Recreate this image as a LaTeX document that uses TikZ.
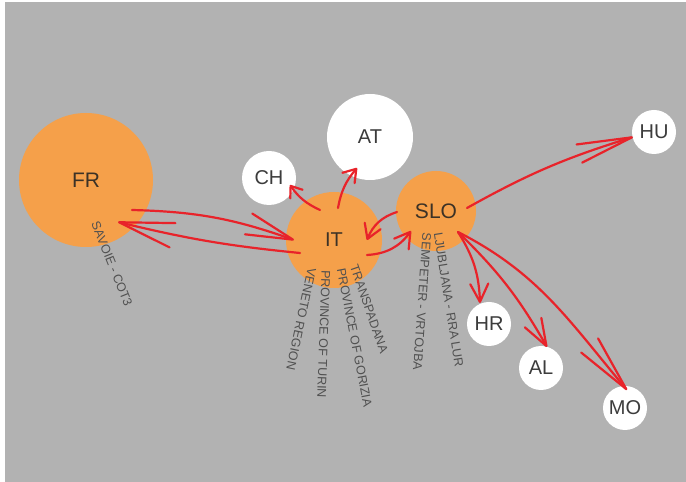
\documentclass[tikz,border=0pt]{standalone}
\usepackage{fontspec}
\setmainfont{Liberation Sans}
\usetikzlibrary{arrows.meta}
\definecolor{bggray}{RGB}{178,178,178}
\definecolor{orng}{RGB}{245,160,74}
\definecolor{arrred}{RGB}{232,35,42}
\definecolor{txtdark}{RGB}{60,50,38}
\definecolor{txtgray}{RGB}{60,60,60}
\definecolor{lblgray}{RGB}{80,80,80}
\begin{document}
\begin{tikzpicture}[x=1pt,y=1pt,
  bigc/.style={circle, fill=orng, inner sep=0pt, text=txtdark},
  smallc/.style={circle, fill=white, inner sep=0pt, text=txtgray, font=\fontsize{20}{22}\selectfont},
  lbl/.style={anchor=west, inner sep=0pt, text=lblgray, font=\fontsize{12.5}{14}\selectfont},
  conn/.style={draw=arrred, line width=2.2pt, line cap=round}
]
\useasboundingbox (0,0) rectangle (686,482);
\fill[white] (0,0) rectangle (686,482);
\fill[bggray] (5,0) rectangle (686,480);

% circles
\node[bigc, minimum size=134pt, font=\fontsize{21}{24}\selectfont] (FR) at (86,302) {FR};
\node[bigc, minimum size=96pt, font=\fontsize{20}{22}\selectfont] (IT) at (334,242) {IT};
\node[bigc, minimum size=80pt, font=\fontsize{21}{24}\selectfont] (SLO) at (436,271) {SLO};
\node[smallc, minimum size=54pt] (CH) at (269,304) {CH};
\node[smallc, minimum size=86pt] (AT) at (370,345) {AT};
\node[smallc, minimum size=44pt] (HU) at (654,350) {HU};
\node[smallc, minimum size=44pt] (HR) at (489,158) {HR};
\node[smallc, minimum size=44pt] (AL) at (541,114) {AL};
\node[smallc, minimum size=44pt] (MO) at (625,74) {MO};

% labels
\node[lbl, rotate=-68] (l1) at (95,260) {SAVOIE - COT3};
\node[lbl, rotate=-71] (l2) at (354,217) {TRANSPADANA};
\node[lbl, rotate=-79] (l3) at (341,214) {PROVINCE OF GORIZIA};
\node[lbl, rotate=-92] (l4) at (326,212) {PROVINCE OF TURIN};
\node[lbl, rotate=-102] (l5) at (312,214) {VENETO REGION};
\node[lbl, rotate=-81] (l6) at (438,249) {LJUBLJANA - RRA LUR};
\node[lbl, rotate=-94] (l7) at (427,249) {SEMPETER - VRTOJBA};

% connectors
\draw[conn, -{Straight Barb[length=47pt,width=22pt,round]}]
  ([shift={(46,-30)}]FR.center) to[bend left=9] ([shift={(-40,0)}]IT.center);
\draw[conn, -{Straight Barb[length=55pt,width=25pt,round]}]
  ([shift={(-34,-13)}]IT.center) to[bend left=4] ([shift={(32,-42)}]FR.center);
\draw[conn, -{Straight Barb[length=14pt,width=17pt,round]}]
  ([shift={(-39,-1)}]SLO.center) to[bend right=25] ([shift={(33,0)}]IT.center);
\draw[conn, -{Straight Barb[length=15pt,width=18pt,round]}]
  ([shift={(33,-15)}]IT.center) to[bend right=25] ([shift={(-25,-20)}]SLO.center);
\draw[conn, -{Straight Barb[length=10pt,width=15pt,round]}]
  ([shift={(-14,30)}]IT.center) to[bend left=15] ([shift={(21,-7)}]CH.center);
\draw[conn, -{Straight Barb[length=12pt,width=16pt,round]}]
  ([shift={(4,32)}]IT.center) to[bend left=15] ([shift={(-13,-31)}]AT.center);
\draw[conn, -{Straight Barb[length=55pt,width=19pt,round]}]
  ([shift={(31,3)}]SLO.center) to[bend left=6] ([shift={(-21,-5)}]HU.center);
\draw[conn, -{Straight Barb[length=18pt,width=18pt,round]}]
  ([shift={(22,-21)}]SLO.center) to[bend left=15] ([shift={(-9,21)}]HR.center);
\draw[conn, -{Straight Barb[length=27pt,width=19pt,round]}]
  ([shift={(22,-21)}]SLO.center) to[bend left=8] ([shift={(6,21)}]AL.center);
\draw[conn, -{Straight Barb[length=57pt,width=22pt,round]}]
  ([shift={(22,-21)}]SLO.center) to[out=-27, in=130] ([shift={(2,18)}]MO.center);
\end{tikzpicture}
\end{document}
